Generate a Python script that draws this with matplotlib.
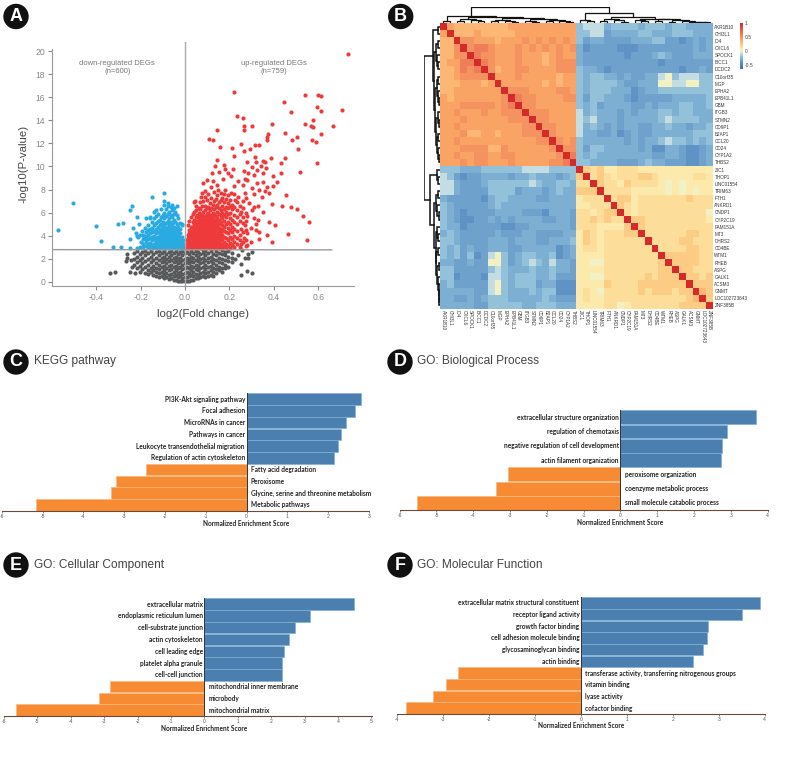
#!/usr/bin/env python3
"""Six-panel figure: volcano plot, correlation heatmap, four enrichment bar charts."""
import matplotlib
matplotlib.use("Agg")
import matplotlib.pyplot as plt
import numpy as np
from matplotlib.colors import LinearSegmentedColormap
from matplotlib.patches import Circle

W, H = 789, 757

# panel A: values, (x, [y, ...]) columns for the dense parts
RED_SPARSE = [
    (.733, 19.74), (.222, 16.48), (.541, 16.16), (.598, 16.16), (.613, 16.13), (.447, 15.58), (.595, 15.15),
    (.706, 14.86), (.479, 14.72), (.611, 14.78), (.233, 14.37), (.263, 14.23), (.578, 14.05), (.541, 13.71),
    (.39, 13.65), (.266, 13.54), (.30, 13.54), (.569, 13.51), (.577, 13.39), (.667, 13.54), (.144, 13.13),
    (.266, 13.13), (.449, 12.9), (.375, 12.84), (.614, 12.81), (.503, 12.58), (.107, 12.41), (.371, 12.52),
    (.369, 12.29), (.128, 12.27), (.483, 12.29), (.572, 12.27), (.589, 12.09), (.252, 11.98), (.315, 11.83),
    (.335, 11.89), (.159, 11.66), (.212, 11.57), (.291, 11.52), (.508, 11.54), (.267, 11.31), (.222, 10.94),
    (.315, 10.85), (.45, 10.71), (.389, 10.71), (.146, 10.56), (.279, 10.39), (.318, 10.42), (.353, 10.45),
    (.36, 10.39), (.432, 10.33), (.595, 10.27), (.135, 10.05), (.175, 10.1), (.18, 9.8), (.215, 9.75),
    (.30, 9.95), (.34, 10.0), (.325, 9.7), (.365, 9.9), (.12, 9.4), (.155, 9.5), (.195, 9.45), (.205, 9.2),
    (.265, 9.6), (.285, 9.45), (.31, 9.3), (.35, 9.4), (.43, 9.45), (.398, 9.2), (.517, 9.56), (.10, 8.8),
    (.08, 8.6), (.125, 8.7), (.17, 8.9), (.24, 8.7), (.27, 8.9), (.28, 8.85), (.325, 8.6), (.35, 8.65),
    (.415, 8.65), (.395, 8.35), (.37, 8.2), (.22, 8.3), (.26, 8.4), (.30, 8.1), (.335, 8.0), (.455, 7.55),
    (.36, 7.9), (.38, 7.7), (.31, 7.6), (.27, 7.7), (.345, 7.4), (.39, 6.75), (.435, 6.62), (.475, 6.48),
    (.503, 6.35), (.53, 5.7), (.56, 5.22), (.378, 5.15), (.403, 4.97), (.465, 4.14), (.548, 3.63),
    (.37, 4.1), (.39, 3.47), (.335, 3.75), (.335, 4.3), (.32, 5.0), (.35, 6.05), (.33, 6.6), (.31, 6.5),
    (.29, 6.8), (.30, 6.2), (.28, 5.7), (.31, 5.5), (.33, 5.4), (.295, 4.7), (.32, 4.5), (.27, 4.9), (.25, 6.1),
    (.26, 7.0), (.24, 7.4), (.225, 7.1), (.205, 7.7), (.18, 8.0), (.15, 8.0), (.09, 7.9), (.07, 7.4),
    (.045, 7.05), (.04, 6.9), (.295, 3.5), (.28, 3.2), (.25, 3.3), (.265, 3.8), (.28, 4.2), (.25, 4.6),
]
RED_COLS = [
    (.004, [2.9, 3.15]), (.009, [3.0, 3.3, 3.6]), (.014, [2.9, 3.2, 3.5, 3.8, 4.1, 4.9]),
    (.02, [3.0, 3.3, 3.6, 3.9, 4.2, 4.5, 5.3]), (.027, [2.9, 3.2, 3.5, 3.8, 4.1, 4.4, 4.8, 5.6]),
    (.034, [3.0, 3.3, 3.6, 3.9, 4.2, 4.5, 4.8, 5.2, 5.9]), (.041, [2.9, 3.2, 3.5, 3.8, 4.1, 4.4, 4.7, 5.0, 5.4, 6.1]),
    (.048, [3.0, 3.3, 3.6, 3.9, 4.2, 4.5, 4.8, 5.1, 5.6, 6.2, 6.6]),
    (.055, [2.9, 3.2, 3.5, 3.8, 4.1, 4.4, 4.7, 5.0, 5.3, 5.8]),
    (.062, [3.0, 3.3, 3.6, 3.9, 4.2, 4.5, 4.8, 5.1, 5.5, 6.0, 6.4]),
    (.069, [2.9, 3.2, 3.5, 3.8, 4.1, 4.4, 4.7, 5.0, 5.3, 5.7, 6.3, 6.9]),
    (.076, [3.0, 3.3, 3.6, 3.9, 4.2, 4.5, 4.8, 5.1, 5.4, 5.9, 6.6, 7.7]),
    (.083, [2.9, 3.2, 3.5, 3.8, 4.1, 4.4, 4.7, 5.0, 5.3, 5.6, 6.1, 7.0]),
    (.09, [3.0, 3.3, 3.6, 3.9, 4.2, 4.5, 4.8, 5.1, 5.4, 5.7, 6.2, 6.6, 7.4]),
    (.097, [2.9, 3.2, 3.5, 3.8, 4.1, 4.4, 4.7, 5.0, 5.3, 5.6, 5.9, 6.4, 7.1]),
    (.104, [3.0, 3.3, 3.6, 3.9, 4.2, 4.5, 4.8, 5.1, 5.4, 5.7, 6.0, 6.5, 7.6]),
    (.111, [2.9, 3.2, 3.5, 3.8, 4.1, 4.4, 4.7, 5.0, 5.3, 5.6, 6.2, 6.8]),
    (.118, [3.0, 3.3, 3.6, 3.9, 4.2, 4.5, 4.8, 5.1, 5.4, 5.8, 6.4, 7.3, 8.2]),
    (.125, [2.9, 3.2, 3.5, 3.8, 4.1, 4.4, 4.7, 5.0, 5.3, 5.6, 6.0, 6.7]),
    (.132, [3.0, 3.3, 3.6, 3.9, 4.2, 4.5, 4.8, 5.1, 5.4, 5.9, 6.3, 7.0, 7.8]),
    (.139, [2.9, 3.2, 3.5, 3.8, 4.1, 4.4, 4.7, 5.0, 5.3, 5.7, 6.5, 7.2]),
    (.146, [3.0, 3.3, 3.6, 3.9, 4.2, 4.5, 4.8, 5.1, 5.5, 6.1, 6.7, 7.5, 8.4]),
    (.153, [2.9, 3.2, 3.5, 3.8, 4.1, 4.4, 4.7, 5.0, 5.4, 5.9, 6.4, 6.9]),
    (.16, [3.0, 3.3, 3.6, 4.0, 4.3, 4.6, 5.2, 5.7, 6.2, 7.1, 7.7]),
    (.168, [2.9, 3.2, 3.7, 4.1, 4.5, 4.9, 5.5, 6.0, 6.6, 7.3]),
    (.176, [3.1, 3.5, 3.9, 4.4, 4.8, 5.3, 5.8, 6.3, 6.9, 7.6]),
    (.184, [2.9, 3.3, 3.8, 4.3, 5.0, 5.6, 6.1, 6.5, 7.2]),
    (.193, [3.1, 3.6, 4.2, 4.7, 5.2, 5.9, 6.4, 6.8, 7.5]),
    (.202, [2.9, 3.4, 3.9, 4.5, 5.0, 5.5, 6.0, 6.6, 7.1]),
    (.212, [3.2, 3.7, 4.3, 4.8, 5.4, 6.3, 6.7]),
    (.222, [3.0, 3.5, 4.0, 4.6, 5.2, 5.8, 6.5, 7.6]),
    (.234, [3.3, 3.8, 4.4, 5.0, 5.6, 6.2, 6.9]),
    (.246, [3.0, 3.6, 4.1, 5.3, 5.9, 6.6]),
    (.26, [3.5, 4.3, 5.1, 5.6, 6.4]),
    (.274, [3.1, 3.6, 4.5, 5.3, 6.0, 7.3]),
]
BLUE_SPARSE = [
    (-.506, 6.81), (-.572, 4.47), (-.40, 4.88), (-.377, 3.52), (-.326, 3.0), (-.29, 3.03), (-.30, 5.05),
    (-.28, 5.14), (-.237, 6.6), (-.248, 6.2), (-.216, 5.66), (-.233, 4.65), (-.206, 5.0), (-.25, 3.7),
    (-.25, 2.9), (-.215, 2.95), (-.205, 3.0), (-.147, 7.39), (-.093, 7.7), (-.095, 7.0), (-.22, 4.2),
    (-.212, 3.9), (-.205, 4.05), (-.195, 4.4), (-.19, 3.3), (-.2, 3.5), (-.215, 4.0), (-.175, 5.55), (-.16, 5.6),
    (-.14, 6.05), (-.13, 6.2), (-.165, 4.9), (-.18, 4.7), (-.185, 3.9), (-.175, 3.7), (-.075, 6.85), (-.058, 6.7),
]
BLUE_COLS = [
    (-.004, [2.9, 3.15]), (-.01, [3.0, 3.3, 3.6]), (-.016, [2.9, 3.2, 3.5, 3.9, 4.9, 5.0]),
    (-.023, [3.0, 3.3, 3.6, 3.9, 4.2, 4.6, 5.1]), (-.03, [2.9, 3.2, 3.5, 3.8, 4.1, 4.4, 4.8, 5.5]),
    (-.037, [3.0, 3.3, 3.6, 3.9, 4.2, 4.5, 5.0, 5.8, 6.6]), (-.044, [2.9, 3.2, 3.5, 3.8, 4.1, 4.4, 4.7, 5.2, 6.1]),
    (-.051, [3.0, 3.3, 3.6, 3.9, 4.2, 4.5, 4.8, 5.4, 5.9, 6.4]),
    (-.058, [2.9, 3.2, 3.5, 3.8, 4.1, 4.4, 4.7, 5.0, 5.6, 6.2]),
    (-.065, [3.0, 3.3, 3.6, 3.9, 4.2, 4.5, 4.8, 5.2, 5.8, 6.5]),
    (-.072, [2.9, 3.2, 3.5, 3.8, 4.1, 4.4, 4.7, 5.0, 5.5, 6.1]),
    (-.079, [3.0, 3.3, 3.6, 3.9, 4.2, 4.5, 4.8, 5.3, 5.9, 6.6]),
    (-.086, [2.9, 3.2, 3.5, 3.8, 4.1, 4.4, 4.7, 5.1, 5.7, 6.3]),
    (-.093, [3.0, 3.3, 3.6, 3.9, 4.2, 4.5, 4.9, 5.5, 6.0, 6.7]),
    (-.1, [2.9, 3.2, 3.5, 3.8, 4.1, 4.4, 4.8, 5.2, 5.8]),
    (-.107, [3.0, 3.3, 3.6, 3.9, 4.2, 4.6, 5.0, 5.6, 6.3]),
    (-.114, [2.9, 3.2, 3.5, 3.8, 4.1, 4.5, 4.9, 5.4]),
    (-.122, [3.0, 3.3, 3.6, 3.9, 4.3, 4.8, 5.3, 5.9]),
    (-.13, [2.9, 3.2, 3.5, 3.8, 4.2, 4.6, 5.1, 5.7]),
    (-.138, [3.0, 3.3, 3.7, 4.0, 4.4, 4.9, 5.5]),
    (-.147, [2.9, 3.2, 3.6, 3.9, 4.3, 4.7, 5.2]),
    (-.156, [3.0, 3.4, 3.8, 4.2, 4.6, 5.5]),
    (-.166, [3.0, 3.3, 3.7, 4.1, 4.5]),
    (-.178, [3.1, 3.5, 4.0, 4.3]),
    (-.19, [3.0, 3.7, 4.1]),
]
GREY_SPARSE = [
    (-.34, .8), (-.315, .85), (-.25, .85), (-.225, .8), (.25, .6), (.28, .95), (.303, .75), (.25, 1.55),
    (.30, 2.6), (.27, 2.1), (.285, 2.1), (.255, 2.75), (.285, 2.45), (-.26, 2.45), (-.26, 2.1), (-.265, 1.85),
    (-.24, 1.3), (-.245, 1.9), (.24, 2.3), (.225, 1.95),
]
GREY_COLS = [
    (-.232, [1.5, 2.0, 2.5]), (-.218, [1.2, 1.7, 2.2, 2.7]), (-.205, [.9, 1.4, 1.9, 2.4]),
    (-.192, [1.1, 1.6, 2.1, 2.6]), (-.18, [.8, 1.3, 1.8, 2.3, 2.7]), (-.168, [.7, 1.0, 1.5, 2.0, 2.5]),
    (-.155, [.9, 1.2, 1.7, 2.2, 2.7]), (-.143, [.6, 1.0, 1.4, 1.9, 2.4]), (-.13, [.5, .9, 1.2, 1.6, 2.1, 2.6]),
    (-.118, [.4, .8, 1.1, 1.5, 1.9, 2.3, 2.7]), (-.106, [.5, .9, 1.3, 1.7, 2.1, 2.5]),
    (-.095, [.3, .7, 1.0, 1.4, 1.8, 2.2, 2.7]), (-.084, [.4, .8, 1.2, 1.6, 2.0, 2.4]),
    (-.073, [.25, .6, 1.0, 1.4, 1.8, 2.2, 2.6]), (-.062, [.3, .7, 1.1, 1.5, 1.9, 2.3, 2.7]),
    (-.052, [.15, .5, .9, 1.3, 1.7, 2.1, 2.5]), (-.042, [.2, .6, 1.0, 1.4, 1.8, 2.2, 2.7]),
    (-.032, [.1, .45, .8, 1.2, 1.6, 2.0, 2.4]), (-.022, [.1, .5, .9, 1.3, 1.7, 2.1, 2.6]),
    (-.012, [.05, .35, .7, 1.1, 1.5, 1.9, 2.3, 2.7]), (-.002, [.05, .4, .8, 1.2, 1.6, 2.0, 2.5]),
    (.008, [.1, .45, .9, 1.3, 1.7, 2.1, 2.6]), (.018, [.1, .5, .8, 1.2, 1.6, 2.0, 2.4]),
    (.028, [.2, .6, 1.0, 1.4, 1.8, 2.2, 2.7]), (.038, [.2, .5, .9, 1.3, 1.7, 2.1, 2.5]),
    (.048, [.3, .7, 1.1, 1.5, 1.9, 2.3, 2.7]), (.058, [.3, .6, 1.0, 1.4, 1.8, 2.2, 2.6]),
    (.069, [.4, .8, 1.2, 1.6, 2.0, 2.4]), (.08, [.5, .9, 1.3, 1.7, 2.1, 2.5, 2.75]),
    (.091, [.4, .8, 1.1, 1.5, 1.9, 2.3, 2.7]), (.103, [.5, .9, 1.3, 1.7, 2.1, 2.5]),
    (.115, [.6, 1.0, 1.4, 1.8, 2.2, 2.7]), (.127, [.55, .9, 1.2, 1.6, 2.0, 2.4]),
    (.14, [.8, 1.1, 1.5, 1.9, 2.3, 2.7]), (.153, [1.0, 1.3, 1.7, 2.1, 2.5]),
    (.166, [.9, 1.2, 1.6, 2.0, 2.4, 2.75]), (.18, [1.2, 1.5, 1.9, 2.3, 2.6]),
    (.195, [1.3, 1.8, 2.2, 2.7]), (.21, [1.7, 2.1, 2.5]),
]
UP_NOTE = "up-regulated DEGs\n(n=759)"
DOWN_NOTE = "down-regulated DEGs\n(n=600)"

TR_LEVELS = [-.42, -.35, -.28, -.2, -.1, .0]
TL_LEVELS = {"6": .32, "7": .41, "8": .5, "9": .6, "X": 1.0}
BR_LEVELS = {"4": .0, "5": .07, "6": .13, "7": .22, "8": .32, "X": 1.0}
TL_UPPER = [
    "X7666666667777777777", "X666766666777777777", "X88777677787878787", "X8998777878787878",
    "X988777877767877", "X98777877767888", "X8677887777888", "X777877777677", "X77777767677",
    "X8887777887", "X988777788", "X88777777", "X8887777", "X887777", "X88777", "X8777", "X878",
    "X88", "X9", "X",
]
TR_BLOCK = [
    "34442333323332332222", "33441222233222333222", "31221111222331101212", "20111100011111111212",
    "21111110111232111222", "21111111111101111111", "32210111111111101121", "32332212112245344433",
    "32333321122255445533", "32333222012233333333", "31332221011111222223", "32312222112122233223",
    "42322212122233233222", "43422212222234333322", "42321212211223221223", "42211201211222222333",
    "32222221212234332323", "31332222212002210012", "32322222222112210012", "33222211123221110012",
]
BR_UPPER = [
    "X7675566655555555555", "X676566677655555665", "X76657666654545555", "X6666555554545455",
    "X677566666667666", "X76566666666666", "X6566666666664", "X776666666665", "X76666666666",
    "X6666667766", "X666677666", "X66667766", "X7777766", "X777766", "X77666", "X7767", "X777",
    "X87", "X7", "X",
]
GENES = [
    "AKR1B10", "CHI3L1", "ID4", "CXCL6", "SPOCK1", "BICC1", "DCDC2", "C10orf35", "MGP", "EPHA2",
    "EPB41L1", "GBM", "ITGB3", "STMN2", "CD9P1", "B2AP1", "CCL20", "CD24", "CYP1A2", "THBS2",
    "ZIC1", "THOP1", "LINC01554", "TRIM63", "FTH1", "ANKRD1", "CNDP1", "CYP2C19", "FAM151A", "MT3",
    "DHRS2", "CD4BE", "WTM1", "RHEB", "ASPG", "GALK1", "ACSM3", "GNMT", "LOC102723643", "ZNF385B",
]
# dendrogram merges as (height, left, right), leaves are gene positions
TREE_A = (.46, (.14, 0, 1), (.38, (.28, (.1, 2, 3), (.2, 4, (.1, 5, 6))),
          (.32, (.2, (.1, 7, 8), (.15, 9, (.08, 10, 11))),
           (.26, (.14, 12, (.09, 13, 14)), (.18, (.1, 15, 16), (.11, 17, (.06, 18, 19)))))))
TREE_B = (.6, (.18, 20, (.12, 21, 22)), (.36, (.24, (.1, 23, 24), (.17, 25, (.09, 26, 27))),
          (.28, (.18, 28, (.11, 29, 30)), (.22, (.13, 31, 32),
           (.17, (.08, 33, 34), (.12, 35, (.09, 36, (.06, 37, (.04, 38, 39)))))))))
TREE_ROOT = (1.0, TREE_A, TREE_B)

# panels C-F
KEGG_LABELS = ["PI3K-Akt signaling pathway", "Focal adhesion", "MicroRNAs in cancer", "Pathways in cancer",
               "Leukocyte transendothelial migration", "Regulation of actin cytoskeleton",
               "Fatty acid degradation", "Peroxisome", "Glycine, serine and threonine metabolism",
               "Metabolic pathways"]
KEGG_NES = [2.80, 2.66, 2.44, 2.31, 2.24, 2.14, -2.46, -3.19, -3.32, -5.17]
BP_LABELS = ["extracellular structure organization", "regulation of chemotaxis",
             "negative regulation of cell development", "actin filament organization",
             "peroxisome organization", "coenzyme metabolic process", "small molecule catabolic process"]
BP_NES = [3.70, 2.91, 2.77, 2.74, -3.06, -3.37, -5.52]
CC_LABELS = ["extracellular matrix", "endoplasmic reticulum lumen", "cell-substrate junction", "actin cytoskeleton",
             "cell leading edge", "platelet alpha granule", "cell-cell junction", "mitochondrial inner membrane",
             "microbody", "mitochondrial matrix"]
CC_NES = [4.47, 3.16, 2.71, 2.53, 2.40, 2.33, 2.33, -2.84, -3.15, -5.65]
MF_LABELS = ["extracellular matrix structural constituent", "receptor ligand activity", "growth factor binding",
             "cell adhesion molecule binding", "glycosaminoglycan binding", "actin binding",
             "transferase activity, transferring nitrogenous groups", "vitamin binding", "lyase activity",
             "cofactor binding"]
MF_NES = [3.91, 3.50, 2.77, 2.74, 2.66, 2.44, -2.69, -2.94, -3.23, -3.82]

plt.rcParams["font.family"] = ["Liberation Sans", "DejaVu Sans"]
plt.rcParams["axes.unicode_minus"] = False
fig = plt.figure(figsize=(W / 100, H / 100), dpi=100)


def ax_px(x0, y0, x1, y1, **kw):
    return fig.add_axes([x0 / W, 1 - y1 / H, (x1 - x0) / W, (y1 - y0) / H], **kw)


def expand(sparse, cols):
    xs = [p[0] for p in sparse]
    ys = [p[1] for p in sparse]
    for x, vals in cols:
        xs += [x] * len(vals)
        ys += vals
    return xs, ys


# page overlay: panel badges and titles
page = ax_px(0, 0, W, H)
page.set_xlim(0, W); page.set_ylim(H, 0); page.axis("off")
for letter, cx, cy in [("A", 16, 16.5), ("B", 400.7, 16.5), ("C", 16, 362), ("D", 400, 362), ("E", 16, 565), ("F", 400, 565)]:
    page.add_patch(Circle((cx, cy), 12, color="#111111"))
    page.text(cx, cy, letter, color="white", fontsize=13, fontweight="bold", ha="center", va="center")
for title, tx, ty in [("KEGG pathway", 34, 361), ("GO: Biological Process", 417, 361),
                      ("GO: Cellular Component", 34, 565), ("GO: Molecular Function", 417, 565)]:
    page.text(tx, ty, title, color="#444444", fontsize=8.6, ha="left", va="center")

# A: volcano
ax = ax_px(52.3, 42, 354, 286)
ax.set_xlim(-.598, .761); ax.set_ylim(-.35, 20.78)
gx, gy = expand(GREY_SPARSE, GREY_COLS)
ax.scatter(gx, gy, s=9, color="#58595b", lw=0)
bx, by = expand(BLUE_SPARSE, BLUE_COLS)
ax.scatter(bx, by, s=9, color="#29abe2", lw=0)
rx, ry = expand(RED_SPARSE, RED_COLS)
ax.scatter(rx, ry, s=9, color="#ee3a3a", lw=0)
ax.axvline(0, color="#aaaaaa", lw=1)
ax.plot([-.598, .66], [2.8, 2.78], color="#999999", lw=1)
ax.spines[["top", "right"]].set_visible(False)
ax.spines["left"].set_bounds(-.35, 20.2)
ax.spines["left"].set_color("#999999"); ax.spines["bottom"].set_color("#999999")
ax.set_xticks([-.4, -.2, 0, .2, .4, .6])
ax.set_xticklabels(["-0.4", "-0.2", "0.0", "0.2", "0.4", "0.6"])
ax.set_yticks(range(0, 21, 2))
ax.tick_params(labelsize=6.2, colors="#888888", length=3, width=.8, pad=2)
ax.set_xlabel("log2(Fold change)", fontsize=8.2, color="#444444", labelpad=5)
ax.set_ylabel("-log10(P-value)", fontsize=8.2, color="#444444", labelpad=5)
ax.text(-.305, 18.6, DOWN_NOTE, fontsize=5.5, color="#777777", ha="center", va="center")
ax.text(.399, 18.6, UP_NOTE, fontsize=5.5, color="#777777", ha="center", va="center")

# B: heatmap
corr = np.zeros((40, 40))
for i, row in enumerate(TL_UPPER):
    for k, ch in enumerate(row):
        corr[i, i + k] = TL_LEVELS[ch]
for i, row in enumerate(TR_BLOCK):
    corr[i, 20:] = [TR_LEVELS[int(c)] for c in row]
for i, row in enumerate(BR_UPPER):
    for k, ch in enumerate(row):
        corr[20 + i, 20 + i + k] = BR_LEVELS[ch]
corr = corr + np.triu(corr, 1).T

cmap = LinearSegmentedColormap.from_list(
    "corr", [(0, "#3f6fb0"), (.12, "#5b8fc4"), (.25, "#88bad8"), (.345, "#cfe4e6"), (.40, "#fbf5bb"),
             (.5, "#fdd58d"), (.62, "#fbab68"), (.75, "#f0805a"), (1, "#d42a2a")])
ax = ax_px(440, 23, 713, 309)
im = ax.imshow(corr, cmap=cmap, vmin=-.64, vmax=1, aspect="auto", interpolation="nearest")
ax.yaxis.tick_right()
ax.set_yticks(range(40)); ax.set_yticklabels(GENES)
ax.set_xticks(range(40)); ax.set_xticklabels(GENES, rotation=-90)
ax.tick_params(length=0, labelsize=3.3, labelcolor="#333333", pad=1)
for s in ax.spines.values():
    s.set_visible(False)

cax = ax_px(740, 23, 743, 68.5)
cb = fig.colorbar(im, cax=cax)
cb.set_ticks([1, .5, 0, -.5]); cb.set_ticklabels(["1", "0.5", "0", "-0.5"])
cb.ax.tick_params(labelsize=3.6, length=0, pad=1, labelcolor="#444444")
cb.outline.set_visible(False)


def draw_tree(ax, node, vertical):
    """Draw one merge and return its leaf position."""
    if isinstance(node, int):
        return node, 0
    h, left, right = node
    pa, ha = draw_tree(ax, left, vertical)
    pb, hb = draw_tree(ax, right, vertical)
    a = [pa, pa, pb, pb]
    b = [ha, h, h, hb]
    if vertical:
        ax.plot(a, b, color="#111111", lw=.9, solid_joinstyle="miter")
    else:
        ax.plot(b, a, color="#111111", lw=1.1, solid_joinstyle="miter")
    return (pa + pb) / 2, h


top = ax_px(440, 7, 713, 23)
top.set_xlim(-.5, 39.5); top.set_ylim(0, 1.0); top.axis("off")
draw_tree(top, TREE_ROOT, True)
side = ax_px(424, 23, 440, 309)
side.set_ylim(39.5, -.5); side.set_xlim(1.0, 0); side.axis("off")
draw_tree(side, TREE_ROOT, False)


# C-F: enrichment bars
def enrich(rect, zero_x, unit, labels, vals, ticks, xlabel_gap):
    x0, y0, x1, y1 = rect
    ax = ax_px(x0, y0, x1, y1)
    ax.set_xlim((x0 - zero_x) / unit, (x1 - zero_x) / unit)
    ax.set_ylim(len(vals) - .5, -.5)
    colors = ["#4a7fb0" if v > 0 else "#f68b33" for v in vals]
    edges = ["#7fb0d6" if v > 0 else "#fbb77c" for v in vals]
    ax.barh(range(len(vals)), vals, height=.97, color=colors, edgecolor=edges, lw=.5)
    for i, (lab, v) in enumerate(zip(labels, vals)):
        off, ha = (-1.2, "right") if v > 0 else (3.0, "left")
        ax.annotate(lab, (0, i), xytext=(off, 0), textcoords="offset points", ha=ha, va="center",
                    fontsize=4.7, fontweight="bold", color="#222222", family=["Lato", "Liberation Sans"])
    ax.axvline(0, color="#333333", lw=.7)
    ax.spines[["top", "right", "left"]].set_visible(False)
    ax.spines["bottom"].set_color("#6b4a3a"); ax.spines["bottom"].set_linewidth(.8)
    ax.set_yticks([])
    ax.set_xticks(ticks)
    ax.tick_params(axis="x", labelsize=3.6, length=1.5, width=.5, pad=.6, colors="#555555")
    ax.set_xlabel("Normalized Enrichment Score", fontsize=4.7, fontweight="bold", color="#222222",
                  family=["Lato", "Liberation Sans"])
    ax.xaxis.set_label_coords((zero_x - x0) / (x1 - x0), -xlabel_gap / (y1 - y0))


enrich((1.7, 393.3, 369.3, 510.7), 246.3, 40.9, KEGG_LABELS, KEGG_NES, range(-6, 4), 9.5)
enrich((399.7, 410, 767.7, 510), 620.3, 36.8, BP_LABELS, BP_NES, range(-6, 5), 9)
enrich((4, 598.3, 371.7, 716), 204.3, 33.4, CC_LABELS, CC_NES, range(-6, 6), 9)
enrich((397.3, 597, 764.7, 714), 581, 45.9, MF_LABELS, MF_NES, range(-4, 5), 8)

fig.savefig("out.png", dpi=100)
